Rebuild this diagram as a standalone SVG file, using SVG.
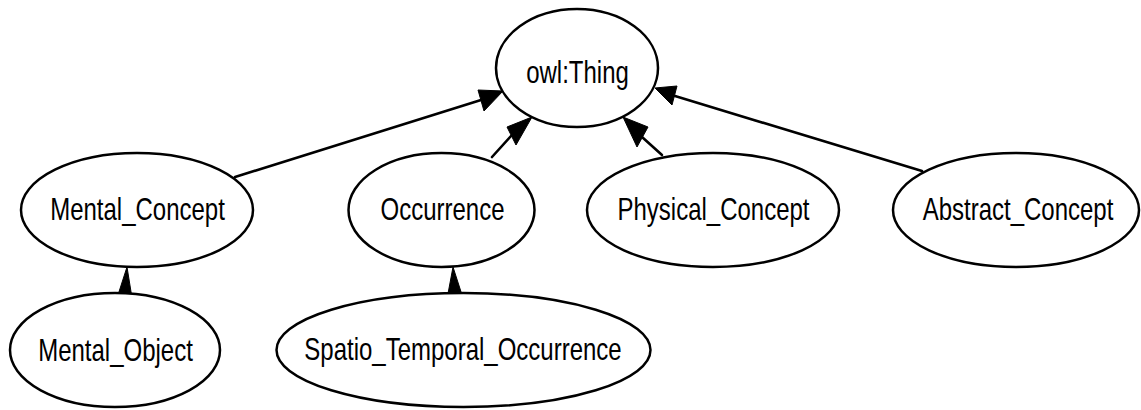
<svg xmlns="http://www.w3.org/2000/svg" width="1141" height="410" viewBox="0 0 1141 410">
  <style>
    .node ellipse { fill: #ffffff; stroke: #000000; stroke-width: 2.5; }
    .node text { font-family: "Liberation Sans", Arial, sans-serif; font-size: 24px; fill: #000000; text-anchor: middle; }
    .edge line { stroke: #000000; stroke-width: 2.6; stroke-linecap: round; }
    .edge polygon { fill: #000000; stroke: #000000; stroke-width: 1; stroke-linejoin: miter; }
  </style>
  <rect width="1141" height="410" fill="#ffffff"/>

  <!-- subclass links (child -> parent) -->
  <g id="connectors">
    <g class="edge" id="e-mental-concept">
      <line x1="235" y1="177" x2="481" y2="100"/>
      <polygon points="503,91 478,90 484,111"/>
    </g>
    <g class="edge" id="e-occurrence">
      <line x1="492" y1="157" x2="511" y2="136"/>
      <polygon points="532,117 507,127 516,145"/>
    </g>
    <g class="edge" id="e-physical-concept">
      <line x1="662" y1="155" x2="642" y2="137"/>
      <polygon points="623,117 637,147 648,127"/>
    </g>
    <g class="edge" id="e-abstract-concept">
      <line x1="922" y1="171" x2="675" y2="96"/>
      <polygon points="655,88 672,105 677,86"/>
    </g>
    <g class="edge" id="e-mental-object">
      <line x1="125" y1="294" x2="125" y2="290"/>
      <polygon points="127,267 117,298 132,298"/>
    </g>
    <g class="edge" id="e-spatio-temporal">
      <line x1="455" y1="294" x2="455" y2="290"/>
      <polygon points="453,267 447,299 463,298"/>
    </g>
  </g>

  <g class="node" id="owl-thing">
    <ellipse cx="577" cy="68" rx="81" ry="59"/>
    <text transform="translate(577.5,83) scale(1,1.32)">owl:Thing</text>
  </g>

  <g class="node" id="mental-concept">
    <ellipse cx="137" cy="210" rx="116" ry="57"/>
    <text transform="translate(137.5,220) scale(1,1.32)">Mental_Concept</text>
  </g>

  <g class="node" id="occurrence">
    <ellipse cx="441.5" cy="210" rx="93" ry="57"/>
    <text transform="translate(442.5,220) scale(1,1.32)">Occurrence</text>
  </g>

  <g class="node" id="physical-concept">
    <ellipse cx="713" cy="210" rx="126" ry="57"/>
    <text transform="translate(713.5,220) scale(1,1.32)">Physical_Concept</text>
  </g>

  <g class="node" id="abstract-concept">
    <ellipse cx="1016" cy="210" rx="123" ry="57"/>
    <text transform="translate(1018,220) scale(1,1.32)">Abstract_Concept</text>
  </g>

  <g class="node" id="mental-object">
    <ellipse cx="115" cy="350" rx="105" ry="57"/>
    <text transform="translate(115.5,361) scale(1,1.32)">Mental_Object</text>
  </g>

  <g class="node" id="spatio-temporal-occurrence">
    <ellipse cx="463.5" cy="350" rx="187" ry="57"/>
    <text transform="translate(463,360) scale(1,1.32)">Spatio_Temporal_Occurrence</text>
  </g>
</svg>
